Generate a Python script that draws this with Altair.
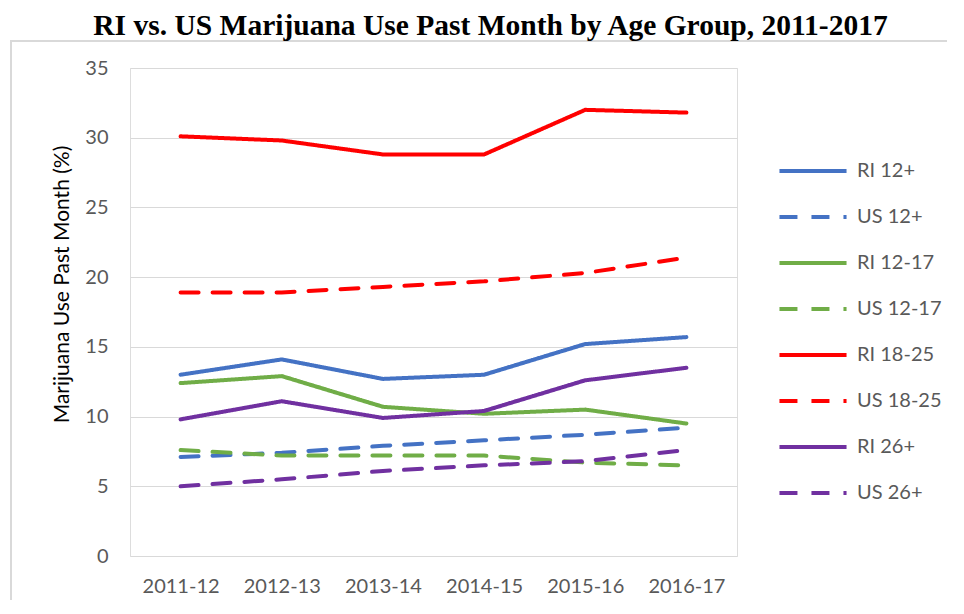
import altair as alt
import pandas as pd

years = ["2011-12", "2012-13", "2013-14", "2014-15", "2015-16", "2016-17"]
series_names = ["RI 12+", "US 12+", "RI 12-17", "US 12-17", "RI 18-25", "US 18-25", "RI 26+", "US 26+"]

ri_12plus = [13.0, 14.1, 12.7, 13.0, 15.2, 15.7]
us_12plus = [7.1, 7.4, 7.9, 8.3, 8.7, 9.2]
ri_12_17 = [12.4, 12.9, 10.7, 10.2, 10.5, 9.5]
us_12_17 = [7.6, 7.2, 7.2, 7.2, 6.7, 6.5]
ri_18_25 = [30.1, 29.8, 28.8, 28.8, 32.0, 31.8]
us_18_25 = [18.9, 18.9, 19.3, 19.7, 20.3, 21.4]
ri_26plus = [9.8, 11.1, 9.9, 10.4, 12.6, 13.5]
us_26plus = [5.0, 5.5, 6.1, 6.5, 6.8, 7.6]

all_values = [ri_12plus, us_12plus, ri_12_17, us_12_17, ri_18_25, us_18_25, ri_26plus, us_26plus]

colors = ["#4472C4", "#4472C4", "#70AD47", "#70AD47", "#FF0000", "#FF0000", "#7030A0", "#7030A0"]
dashes = [[1, 0], [18, 14], [1, 0], [18, 14], [1, 0], [18, 14], [1, 0], [18, 14]]

rows = []
for name, vals in zip(series_names, all_values):
    for yr, v in zip(years, vals):
        rows.append({"year": yr, "series": name, "value": v})
df = pd.DataFrame(rows)

FONT = "Lato"

legend = alt.Legend(title=None, orient="none", legendX=647, legendY=67,
                    symbolType="stroke", symbolSize=4500, symbolStrokeWidth=4,
                    labelFontSize=20, labelColor="#595959", labelFont=FONT,
                    labelOffset=8, rowPadding=0)

lines = alt.Chart(df).mark_line(strokeWidth=4, strokeCap="round").encode(
    x=alt.X("year:N", sort=years, scale=alt.Scale(type="point", padding=0.5),
            axis=alt.Axis(title=None, labelAngle=0, labelFontSize=20, labelColor="#595959",
                          labelFont=FONT, domain=False, ticks=False, labelPadding=20, grid=False)),
    y=alt.Y("value:Q", scale=alt.Scale(domain=[0, 35], nice=False),
            axis=alt.Axis(values=[0, 5, 10, 15, 20, 25, 30, 35], title="Marijuana Use Past Month (%)",
                          titleFont=FONT, titleFontSize=21, titleFontWeight="normal", titleColor="#000000",
                          titleX=-68, titleY=216, titleAngle=270, titleAlign="center", titleBaseline="middle",
                          labelFontSize=20, labelColor="#595959", labelFont=FONT, labelPadding=22,
                          domain=False, ticks=False, grid=True, gridColor="#D9D9D9", gridWidth=1)),
    color=alt.Color("series:N", sort=series_names,
                    scale=alt.Scale(domain=series_names, range=colors), legend=legend),
    strokeDash=alt.StrokeDash("series:N", sort=series_names,
                              scale=alt.Scale(domain=series_names, range=dashes), legend=legend),
)

frame_top = alt.Chart(pd.DataFrame({"a": [0]})).mark_rule(color="#D9D9D9", strokeWidth=2).encode(
    x=alt.value(-120), x2=alt.value(834), y=alt.value(-27)
)
frame_left = alt.Chart(pd.DataFrame({"a": [0]})).mark_rule(color="#D9D9D9", strokeWidth=2).encode(
    x=alt.value(-119), y=alt.value(-27), y2=alt.value(560)
)

chart = alt.layer(frame_top, frame_left, lines).properties(
    width=607,
    height=488,
    title=alt.TitleParams("RI vs. US Marijuana Use Past Month by Age Group, 2011-2017",
                          font="Liberation Serif", fontSize=29.5, fontWeight="bold", color="#000000",
                          anchor="middle", dx=57, offset=-24, baseline="alphabetic"),
    padding={"left": 122, "top": 60, "right": 210, "bottom": 44},
    autosize=alt.AutoSizeParams(type="none"),
).configure_view(strokeWidth=0, stroke="transparent").configure(background="white")

chart.save("out.html", embed_options={"renderer": "svg", "actions": False})
